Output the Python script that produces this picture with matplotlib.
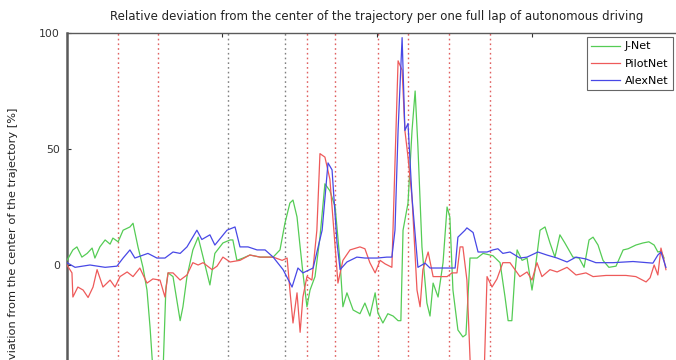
import matplotlib
matplotlib.use("Agg")
import matplotlib.pyplot as plt

# ---- data ----
jnet_x = [0, 19, 32, 48, 65, 81, 90, 106, 123, 139, 148, 165, 181, 203, 213, 229, 245, 258, 268, 277,
          294, 310, 319, 326, 342, 365, 374, 387, 406, 423, 439, 461, 477, 503, 526, 535, 548, 568, 590,
          623, 665, 687, 703, 719, 729, 742, 752, 761, 774, 784, 800, 816, 832, 848, 865, 881, 890, 903,
          923, 945, 961, 977, 994, 1003, 1019, 1035, 1052, 1068, 1077, 1084, 1100, 1113, 1123, 1132,
          1145, 1161, 1171, 1181, 1197, 1213, 1226, 1235, 1245, 1261, 1277, 1287, 1300, 1323, 1342,
          1374, 1397, 1413, 1423, 1435, 1445, 1452, 1468, 1484, 1500, 1510, 1526, 1542, 1558, 1574,
          1590, 1606, 1632, 1652, 1668, 1684, 1697, 1713, 1729, 1748, 1771, 1794, 1810, 1835, 1858,
          1877, 1894, 1906, 1916, 1926]
jnet_y = [2, 6.5, 7.8, 3.4, 5, 7.3, 3, 7.8, 10.8, 9, 11.6, 10, 15, 16.4, 18, 7.8, -1, -10.8, -27, -45,
          -60, -45, -10, -3.4, -5, -24, -18, -5, 6.5, 12, 3.4, -8.6, 5, 9.5, 10.8, 10.8, 2, 3, 4.3,
          3.4, 3.4, 6.5, 18, 26.7, 28, 20.7, 7.8, -3.4, -18, -10.8, -5, 12, 35, 32, 25, 1, -18, -12,
          -19.4, -21, -16.4, -22, -12, -20.7, -25, -21, -22, -24, -24, 15, 26.7, 58, 75, 51,
          7.8, -16.4, -22, -7.8, -13.8, 1, 25, 20.7, -10.8, -28, -31, -30, 3, 3, 5,
          4, 1, -13.8, -24, -24, -3.4, 6.5, 2, 3, -10.8, -2, 15, 16.4, 9.5, 3.4,
          13, 9.5, 3.4, 3, -1, 10.8, 12, 8.6, 2, -1, -0.5, 6.5, 7, 8.6, 9.5,
          10, 8.6, 5.6, 6, 3]

pilot_x = [0, 16, 19, 35, 52, 68, 84, 97, 116, 139, 155, 171, 194, 213, 235, 258, 277, 300, 316, 326,
           342, 365, 387, 406, 423, 439, 468, 484, 503, 526, 558, 590, 623, 665, 694, 710, 719, 729,
           742, 752, 761, 774, 790, 806, 816, 832, 848, 865, 874, 890, 913, 945, 961, 977, 994, 1010,
           1026, 1048, 1058, 1068, 1081, 1090, 1100, 1113, 1129, 1139, 1148, 1165, 1181, 1203, 1226,
           1242, 1258, 1268, 1277, 1290, 1303, 1323, 1345, 1355, 1371, 1387, 1406, 1429, 1445, 1461,
           1484, 1500, 1516, 1532, 1558, 1581, 1613, 1642, 1674, 1697, 1739, 1803, 1835, 1868, 1881,
           1894, 1906, 1916, 1926, 1932]
pilot_y = [0, -3.4, -13.8, -9.5, -10.8, -14, -9.5, -2, -9.5, -6.5, -9.5, -5, -3, -5, -1.3, -7.8, -6,
           -6.5, -13.8, -3.4, -3.4, -6.5, -4.3, 1, 0, 1, -2, -0.5, 3.4, 1.3, 2, 4.3, 3.4, 3.4, 2, 3,
           -10.8, -25, -12, -29, -13.8, -5, -6.5, 15, 48, 46.5, 37, 7.8, -7.8, 2, 6.5, 7.8, 7, 1,
           -3.4, 2, 0.5, -1, 44, 88, 84, 58, 46.5, 29, -10.8, -18, -2, 5.6, -5, -5, -5, -3.4, -3.4,
           7.8, 7.8, -6.5, -50, -65, -50, -5, -9.5, -6, 1, 1, -2, -5, -3, -6.5, 1, -5, -2, -3, -1,
           -4.3, -3.4, -5, -4.5, -4.5, -5, -7.3, -5.5, 0, -4.3, 7.3, 2, -2]

alex_x = [0, 26, 74, 123, 161, 181, 203, 219, 261, 290, 316, 342, 365, 387, 419, 435, 461, 477, 516,
          542, 558, 584, 613, 639, 665, 697, 726, 745, 761, 794, 823, 842, 855, 871, 881, 903, 935,
          961, 1000, 1032, 1048, 1058, 1068, 1081, 1090, 1100, 1113, 1132, 1155, 1171, 1235, 1252,
          1261, 1284, 1290, 1310, 1326, 1355, 1374, 1390, 1406, 1429, 1461, 1484, 1519, 1548, 1581,
          1613, 1642, 1674, 1706, 1761, 1826, 1890, 1906, 1916, 1932]
alex_y = [1, -1, 0, -1, -0.5, 3, 6.5, 3, 5, 3, 3, 5.6, 5, 7.8, 15, 11, 13, 8.6, 15, 16.4, 7.8, 7.8,
          6.5, 6.5, 3.4, -2, -9.5, -1.3, -3.4, -1.3, 15, 44, 41, 9.5, -2, 1.3, 3.4, 3, 3, 3.4, 3.4,
          15, 58, 98, 58, 61, 29, -1, 0.8, -1.3, -1.3, -1.3, 12, 15, 16, 14, 5.6, 5.6, 6.5, 7, 5,
          5.6, 3, 3.4, 5.6, 4.3, 3, 1.3, 3.4, 2.6, 1, 1, 1.5, 0.8, 4.3, 5.6, -1]

red_marks = [165, 294, 774, 865, 1003, 1100, 1232, 1365]
black_marks = [519, 703]

title = "Relative deviation from the center of the trajectory per one full lap of autonomous driving"
ylabel = "Relative deviation from the center of the trajectory [%]"
yticks = [0, 50, 100]

# ---- figure ----
fig = plt.figure(figsize=(6.76, 3.6), dpi=100)
W, H = 676.0, 360.0
left, right, top, bottom = 67, 687, 33, 497
ax = fig.add_axes([left / W, 1 - bottom / H, (right - left) / W, (bottom - top) / H])

for xm in red_marks:
    ax.axvline(xm, color="#e06060", ls=(0, (1.2, 2.2)), lw=1.0, zorder=1)
for xm in black_marks:
    ax.axvline(xm, color="#808080", ls=(0, (1.2, 2.2)), lw=1.0, zorder=1)

ax.plot(jnet_x, jnet_y, color="#55cc55", lw=0.9, label="J-Net", zorder=3)
ax.plot(pilot_x, pilot_y, color="#ee5a5a", lw=0.9, label="PilotNet", zorder=3)
ax.plot(alex_x, alex_y, color="#4848e6", lw=0.9, label="AlexNet", zorder=4)

ax.set_xlim(0, 2000)
ax.set_ylim(-100, 100)
ax.set_yticks(yticks)
ax.set_xticks([0, 500, 1000, 1500, 2000])
ax.tick_params(direction="in", length=3, width=0.8, top=True, right=True,
               labelsize=7.8, colors="#333333", labelbottom=False, pad=5)
for s in ax.spines.values():
    s.set_color("#5a5a5a")
    s.set_linewidth(1.0)
ax.spines["left"].set_linewidth(1.8)

ax.set_title(title, fontsize=8.5, color="#222222", pad=9)
ax.set_ylabel(ylabel, fontsize=8.2, color="#222222", labelpad=15)

leg = ax.legend(loc="upper right", bbox_to_anchor=(673 / W, 1 - 37 / H),
                bbox_transform=fig.transFigure, fontsize=8, handlelength=2.6,
                fancybox=False, framealpha=1, edgecolor="#666666",
                borderpad=0.4, labelspacing=0.65, handletextpad=0.45, borderaxespad=0)
leg.get_frame().set_linewidth(0.8)

fig.savefig("out.png", dpi=100)
